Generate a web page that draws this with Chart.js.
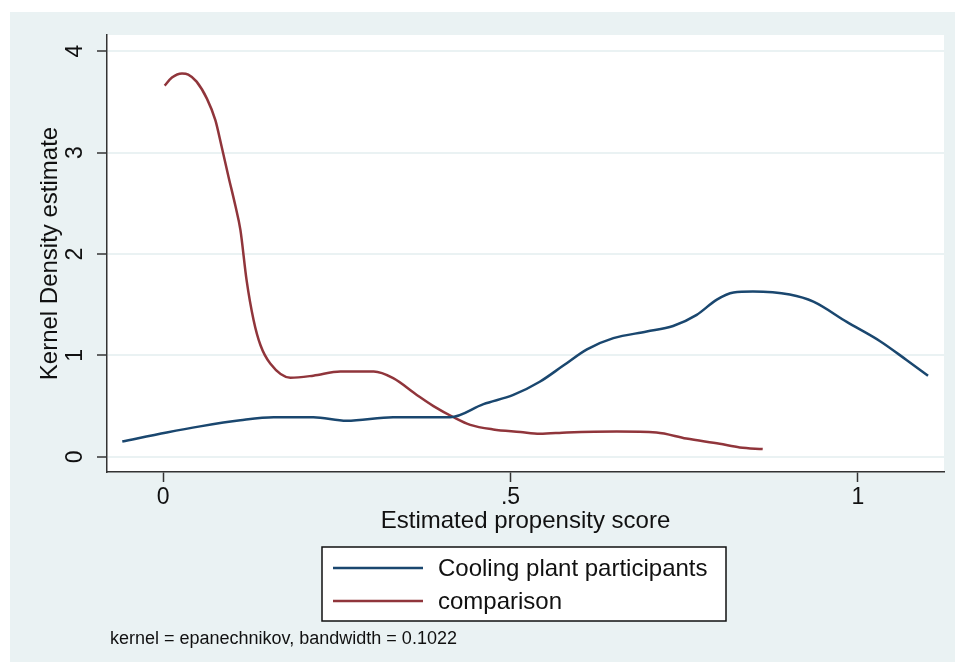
<!DOCTYPE html>
<html>
<head>
<meta charset="utf-8">
<script src="https://cdn.jsdelivr.net/npm/chart.js@4.4.1/dist/chart.umd.min.js"></script>
<style>
  html, body { margin: 0; padding: 0; background: #ffffff; }
  #wrap { position: relative; width: 955px; height: 669px; }
</style>
</head>
<body>
<div id="wrap"><canvas id="c" width="955" height="669"></canvas></div>
<script>
// ---- data ----
const participantsX = [-0.059, 0.005, 0.053, 0.111, 0.159, 0.216, 0.264, 0.331, 0.413, 0.461, 0.504, 0.542, 0.576, 0.610, 0.648, 0.696, 0.734, 0.768, 0.797, 0.821, 0.849, 0.902, 0.936, 0.984, 1.032, 1.070, 1.101];
const participantsY = [0.15, 0.24, 0.30, 0.36, 0.39, 0.39, 0.355, 0.39, 0.39, 0.52, 0.61, 0.74, 0.90, 1.06, 1.17, 1.235, 1.29, 1.40, 1.55, 1.62, 1.63, 1.60, 1.53, 1.33, 1.14, 0.955, 0.80];
const comparisonX = [0.002, 0.0125, 0.027, 0.036, 0.048, 0.063, 0.075, 0.084, 0.094, 0.104, 0.111, 0.120, 0.130, 0.140, 0.154, 0.183, 0.216, 0.255, 0.303, 0.331, 0.365, 0.389, 0.418, 0.442, 0.475, 0.514, 0.542, 0.581, 0.653, 0.710, 0.753, 0.801, 0.830, 0.863];
const comparisonY = [3.66, 3.74, 3.78, 3.77, 3.70, 3.53, 3.32, 3.06, 2.76, 2.47, 2.24, 1.74, 1.35, 1.10, 0.92, 0.78, 0.80, 0.84, 0.84, 0.775, 0.61, 0.50, 0.39, 0.315, 0.27, 0.245, 0.227, 0.24, 0.25, 0.24, 0.18, 0.128, 0.092, 0.076];
const seriesLabels = ['Cooling plant participants', 'comparison'];
const xTickValues = [0, 0.5, 1];
const xTickLabels = ['0', '.5', '1'];
const yTickValues = [0, 1, 2, 3, 4];
const yTickLabels = ['0', '1', '2', '3', '4'];
const xTitle = 'Estimated propensity score';
const yTitle = 'Kernel Density estimate';
const noteText = 'kernel = epanechnikov, bandwidth = 0.1022';

const NAVY = '#1a476f';
const MAROON = '#90353b';
const PANEL = '#eaf2f3';
const INK = '#111111';
const FONT = "'Liberation Sans', Arial, sans-serif";

function pts(xs, ys) { return xs.map((x, i) => ({ x: x, y: ys[i] })); }

const backgroundPlugin = {
  id: 'bg',
  beforeDraw(chart) {
    const ctx = chart.ctx;
    const a = chart.chartArea;
    ctx.save();
    ctx.fillStyle = '#ffffff';
    ctx.fillRect(0, 0, chart.width, chart.height);
    ctx.fillStyle = PANEL;
    ctx.fillRect(10, 12, chart.width - 10, 650);
    ctx.fillStyle = '#ffffff';
    ctx.fillRect(a.left, a.top, a.right - a.left, a.bottom - a.top);
    ctx.restore();
  }
};

const legendPlugin = {
  id: 'boxLegend',
  afterDraw(chart) {
    const ctx = chart.ctx;
    ctx.save();
    const bx = 322, by = 547, bw = 404, bh = 74;
    ctx.fillStyle = '#ffffff';
    ctx.fillRect(bx, by, bw, bh);
    ctx.strokeStyle = '#111111';
    ctx.lineWidth = 1.5;
    ctx.strokeRect(bx, by, bw, bh);
    const rows = [568, 601];
    chart.data.datasets.forEach((ds, i) => {
      ctx.strokeStyle = ds.borderColor;
      ctx.lineWidth = 2.5;
      ctx.beginPath();
      ctx.moveTo(333, rows[i]);
      ctx.lineTo(423, rows[i]);
      ctx.stroke();
      ctx.fillStyle = INK;
      ctx.font = '24px ' + FONT;
      ctx.textBaseline = 'middle';
      ctx.textAlign = 'left';
      ctx.fillText(ds.label, 438, rows[i] + 1);
    });
    ctx.font = '18px ' + FONT;
    ctx.fillStyle = INK;
    ctx.textBaseline = 'middle';
    ctx.fillText(noteText, 110, 639);
    ctx.restore();
  }
};

new Chart(document.getElementById('c'), {
  type: 'line',
  data: {
    datasets: [
      { label: seriesLabels[0], data: pts(participantsX, participantsY), borderColor: NAVY, borderWidth: 2.5, pointRadius: 0, cubicInterpolationMode: 'monotone', fill: false },
      { label: seriesLabels[1], data: pts(comparisonX, comparisonY), borderColor: MAROON, borderWidth: 2.5, pointRadius: 0, cubicInterpolationMode: 'monotone', fill: false }
    ]
  },
  options: {
    responsive: false,
    animation: false,
    layout: { padding: { left: 10, top: 35, right: 11, bottom: 133.6 } },
    plugins: { legend: { display: false }, tooltip: { enabled: false } },
    scales: {
      x: {
        type: 'linear',
        min: -0.081, max: 1.124,
        afterBuildTicks(s) { s.ticks = xTickValues.map(v => ({ value: v })); },
        afterFit(s) { s.height = 63.4; },
        ticks: {
          color: INK, font: { family: FONT, size: 23 }, padding: 2, maxRotation: 0,
          callback(v) { const i = xTickValues.indexOf(v); return i >= 0 ? xTickLabels[i] : ''; }
        },
        grid: { drawOnChartArea: false, drawTicks: true, tickLength: 10, tickColor: '#333333', tickWidth: 1.5 },
        border: { display: true, color: '#333333', width: 1.5 },
        title: { display: true, text: xTitle, color: INK, font: { family: FONT, size: 24 }, padding: 0 }
      },
      y: {
        type: 'linear',
        min: -0.15, max: 4.16,
        afterBuildTicks(s) { s.ticks = yTickValues.map(v => ({ value: v })); },
        afterFit(s) { s.width = 97; },
        ticks: {
          color: INK, font: { family: FONT, size: 23 }, padding: 15, minRotation: 90, maxRotation: 90,
          crossAlign: 'center',
          callback(v) { const i = yTickValues.indexOf(v); return i >= 0 ? yTickLabels[i] : ''; }
        },
        grid: { color: PANEL, lineWidth: 2, drawTicks: true, tickLength: 10, tickColor: '#333333', tickWidth: 1.5 },
        border: { display: true, color: '#333333', width: 1.5 },
        title: { display: true, text: yTitle, color: INK, font: { family: FONT, size: 24 }, padding: { top: 26, bottom: 0 } }
      }
    }
  },
  plugins: [backgroundPlugin, legendPlugin]
});
</script>
</body>
</html>
